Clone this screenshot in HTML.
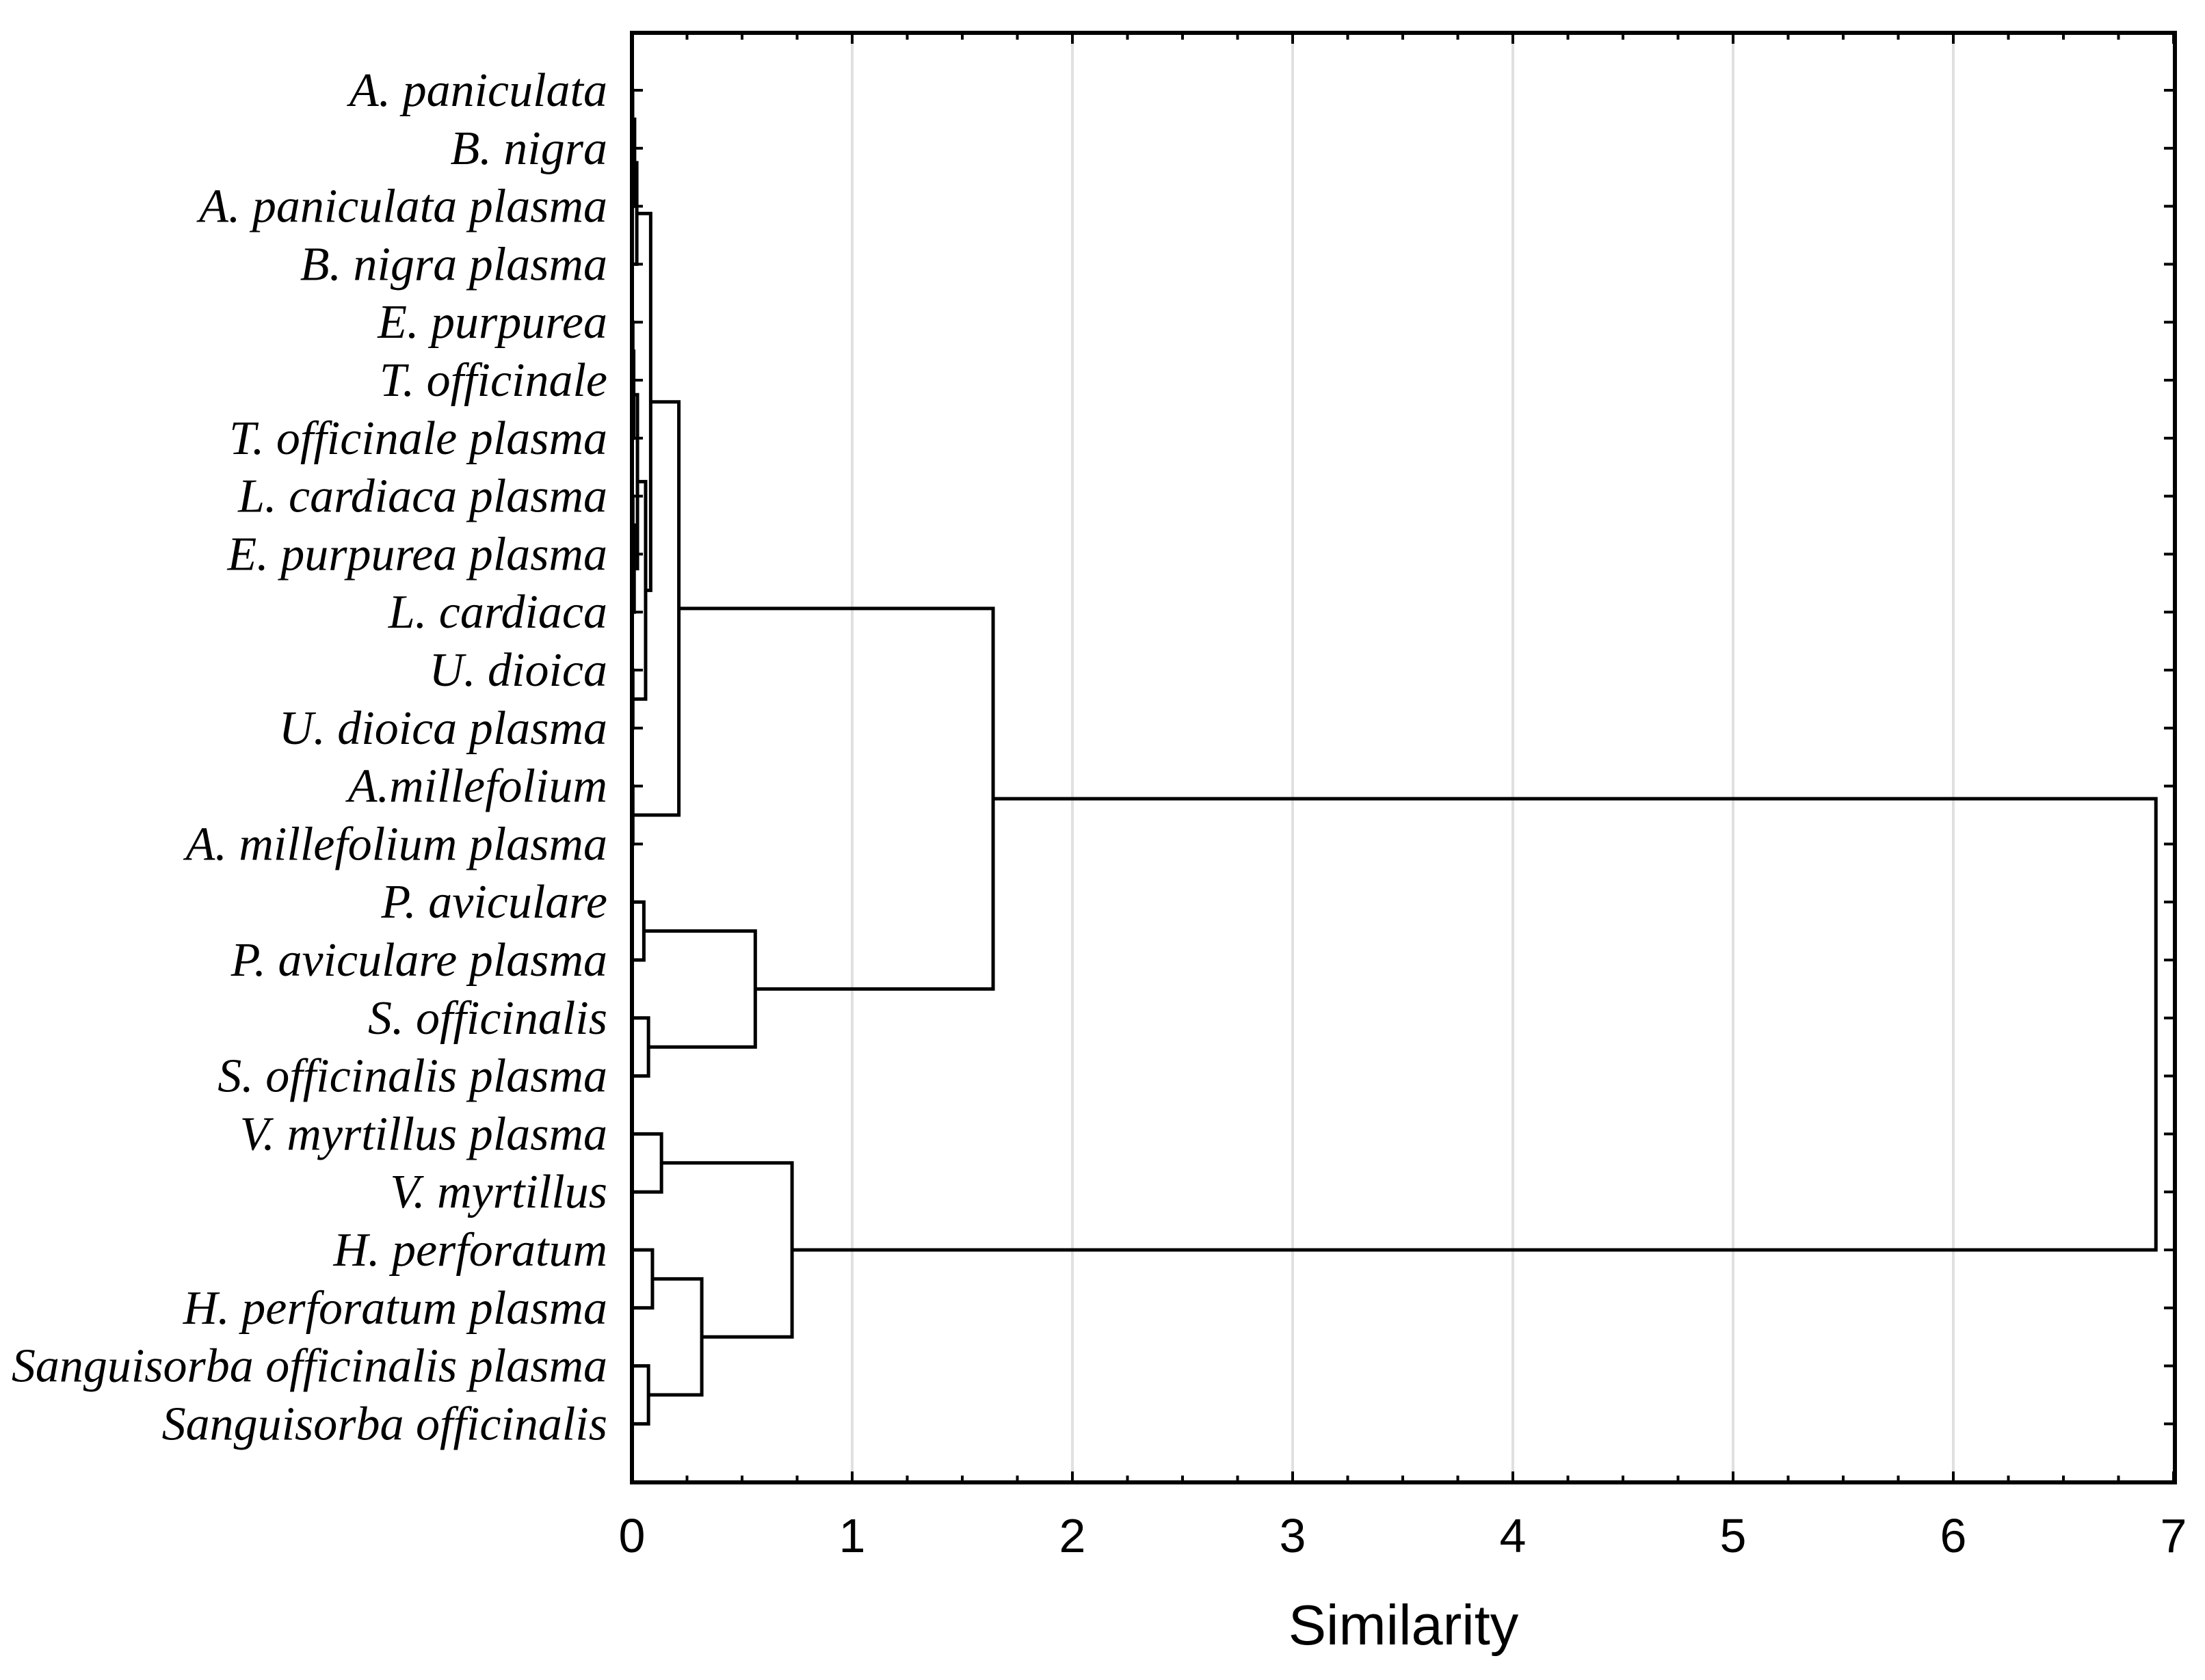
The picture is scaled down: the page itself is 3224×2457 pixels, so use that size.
<!DOCTYPE html>
<html><head><meta charset="utf-8"><style>
html,body{margin:0;padding:0;background:#fff;}
svg{display:block;}
</style></head><body>
<svg id="chart" width="3224" height="2457" viewBox="0 0 3224 2457" xmlns="http://www.w3.org/2000/svg">
<g id="grid"></g>
<g id="ticks"></g>
<g id="labels"></g>
<g id="tree"></g>
<rect x="924" y="48" width="2256" height="2120" fill="none" stroke="#000" stroke-width="6"/>
<g id="xlabels"></g>
<text x="2052" y="2405" font-family="Liberation Sans, sans-serif" font-size="83" text-anchor="middle">Similarity</text>
</svg>
<script>
const leaves = ["A. paniculata","B. nigra","A. paniculata plasma","B. nigra plasma","E. purpurea","T. officinale","T. officinale plasma","L. cardiaca plasma","E. purpurea plasma","L. cardiaca","U. dioica","U. dioica plasma","A.millefolium","A. millefolium plasma","P. aviculare","P. aviculare plasma","S. officinalis","S. officinalis plasma","V. myrtillus plasma","V. myrtillus","H. perforatum","H. perforatum plasma","Sanguisorba officinalis plasma","Sanguisorba officinalis"];
// merges: [childA, childB, height]; children: leaf index (number) or "m<k>" for earlier merge
const mergeA = [0,"m0",  "m1",4,"m3",7,"m5","m4",10,"m7","m2",12,"m10",14,16,"m13","m12",18,20,22,"m18","m17","m16"];
const mergeB = [1,2,     3,   5,6,   8,9,   "m6",11,"m8","m9",13,"m11",15,17,"m14","m15",19,21,23,"m19","m20","m21"];
const mergeH = [0.003,0.012,0.022,0.004,0.008,0.004,0.01,0.025,0.004,0.062,0.085,0.004,0.213,0.054,0.075,0.56,1.64,0.134,0.093,0.075,0.317,0.727,6.92];
const xTicks = [0,1,2,3,4,5,6,7];

const X0=924, UNIT=322, Y0=132, STEP=84.8, NS="http://www.w3.org/2000/svg";
const xs = v => X0 + v*UNIT;
const ys = i => Y0 + i*STEP;
function mk(tag, attrs, parent){const e=document.createElementNS(NS,tag);for(const k in attrs)e.setAttribute(k,attrs[k]);parent.appendChild(e);return e;}

const grid=document.getElementById('grid'), ticks=document.getElementById('ticks'), xl=document.getElementById('xlabels');
xTicks.forEach(t=>{
  if(t>0&&t<7){const g=mk('line',{x1:xs(t),x2:xs(t),y1:48,y2:2168,stroke:'#e0e0e0','stroke-width':4},grid);
    
    }
  const tx=mk('text',{x:xs(t),y:2270,'font-family':'Liberation Sans, sans-serif','font-size':70,'text-anchor':'middle'},xl);
  tx.textContent=t;
  
  
});
for(let v=0; v<=7.0001; v+=0.25){
  const major=Math.abs(v-Math.round(v))<1e-6, L=major?16:10;
  mk('line',{x1:xs(v),x2:xs(v),y1:2168,y2:2168-L,stroke:'#000','stroke-width':4},ticks);
  mk('line',{x1:xs(v),x2:xs(v),y1:48,y2:48+L,stroke:'#000','stroke-width':4},ticks);
}
const lab=document.getElementById('labels');
leaves.forEach((n,i)=>{
  mk('line',{x1:924,x2:940,y1:ys(i),y2:ys(i),stroke:'#000','stroke-width':4},ticks);
  mk('line',{x1:3180,x2:3164,y1:ys(i),y2:ys(i),stroke:'#000','stroke-width':4},ticks);
  const t=mk('text',{x:888,y:ys(i)+23,'font-family':'Liberation Serif, serif','font-style':'italic','font-size':70,'text-anchor':'end'},lab);
  t.textContent=n;
  
  
});
const tree=document.getElementById('tree');
const pos=[], hgt=[];
function get(c){ if(typeof c==='number') return [ys(c),0]; const k=+c.slice(1); return [pos[k],hgt[k]]; }
mergeH.forEach((h,k)=>{
  const [ya,ha]=get(mergeA[k]), [yb,hb]=get(mergeB[k]);
  const p=mk('path',{d:`M${xs(ha)},${ya}H${xs(h)}V${yb}H${xs(hb)}`,fill:'none',stroke:'#000','stroke-width':5},tree);
  
  
  pos[k]=(ya+yb)/2; hgt[k]=h;
});
</script>
</body></html>
